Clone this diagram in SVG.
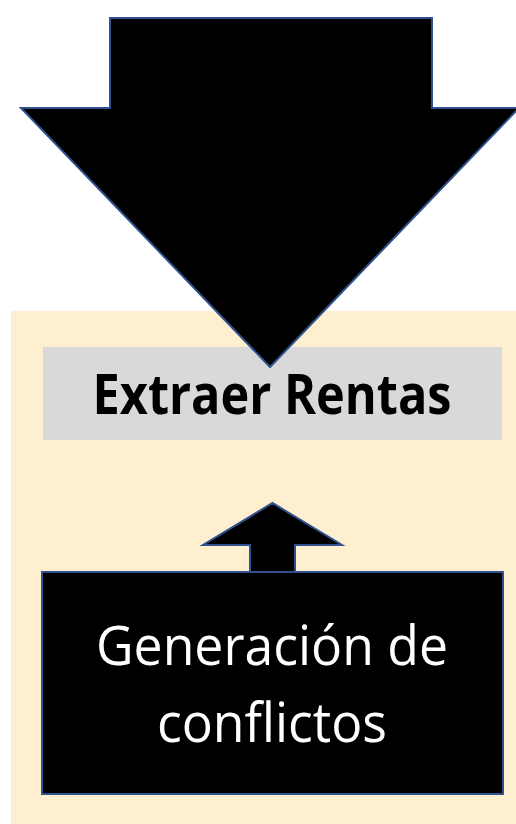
<svg xmlns="http://www.w3.org/2000/svg" width="516" height="824" viewBox="0 0 516 824">
<style>
.arrow{fill:#000;stroke:#2F528F;stroke-width:2;stroke-linejoin:miter}
.t{font-family:"Open Sans","Liberation Sans",Arial,sans-serif;text-anchor:middle}
</style>
<rect x="0" y="0" width="516" height="824" fill="#fff"/>
<g id="background">
<rect x="11" y="311" width="510" height="515" fill="#FDEFCF"/>
</g>
<g id="extraer">
<rect x="43" y="347" width="459" height="93" fill="#D9D9D9"/>
<text class="t" x="272" y="414" font-size="56" font-weight="bold" fill="#000" textLength="359" lengthAdjust="spacingAndGlyphs">Extraer Rentas</text>
</g>
<g id="generacion">
<rect x="42" y="572" width="461" height="222" fill="#000" stroke="#2F528F" stroke-width="2"/>
<text class="t" x="272" y="665" font-size="55" fill="#fff" textLength="352" lengthAdjust="spacingAndGlyphs">Generación de</text>
<text class="t" x="272" y="742" font-size="55" fill="#fff" textLength="230" lengthAdjust="spacingAndGlyphs">conflictos</text>
</g>
<g id="connectors">
<polygon class="arrow" points="110,18 432,18 432,108 519,108 270,367 21,108 110,108"/>
<polygon class="arrow" points="250,572 250,545 203,545 272.5,503 342,545 295,545 295,572"/>
</g>
</svg>
